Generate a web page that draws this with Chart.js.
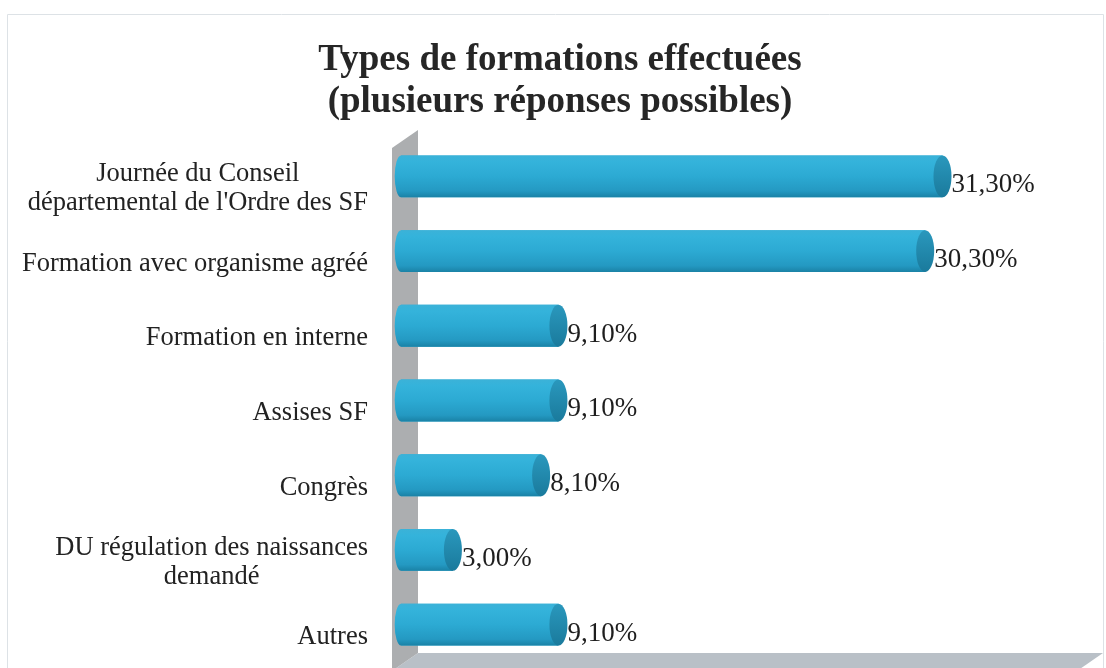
<!DOCTYPE html>
<html>
<head>
<meta charset="utf-8">
<script src="https://cdn.jsdelivr.net/npm/chart.js@4/dist/chart.umd.min.js"></script>
<style>
  html, body { margin: 0; padding: 0; background: #fff; }
  #wrap { width: 1106px; height: 668px; }
</style>
</head>
<body>
<div id="wrap"><canvas id="chart-formations"></canvas></div>
<script>
// catégories (libellés sur plusieurs lignes quand Excel les coupait)
const categories = [
  ["Journée du Conseil", "départemental de l'Ordre des SF"],
  "Formation avec organisme agréé",
  "Formation en interne",
  "Assises SF",
  "Congrès",
  ["DU régulation des naissances", "demandé"],
  "Autres",
];
// pourcentages de réponses
const values = [31.3, 30.3, 9.1, 9.1, 8.1, 3.0, 9.1];
const titleLines = ["Types de formations effectuées", "(plusieurs réponses possibles)"];

const fmtPct = (v) => v.toFixed(2).replace(".", ",") + "%";

// murs gris du graphique 3D (mur gauche + sol)
const scene3d = {
  id: "scene3d",
  beforeDraw(chart) {
    const { ctx } = chart;
    ctx.save();
    ctx.strokeStyle = "#dde2e6";
    ctx.lineWidth = 1;
    ctx.beginPath();
    ctx.moveTo(7.5, 700);
    ctx.lineTo(7.5, 14.5);
    ctx.lineTo(1103.5, 14.5);
    ctx.lineTo(1103.5, 700);
    ctx.stroke();
    ctx.restore();
  },
  beforeDatasetsDraw(chart) {
    const { ctx, chartArea: a } = chart;
    const dx = 26, dy = 18;
    const fx = a.left - 9, bx = fx + dx;
    const floorY = a.bottom - 9;
    ctx.save();
    ctx.fillStyle = "#b9c0c7";
    ctx.beginPath();
    ctx.moveTo(bx, floorY);
    ctx.lineTo(a.right + 10, floorY);
    ctx.lineTo(a.right + 10 - dx, floorY + dy);
    ctx.lineTo(fx, floorY + dy);
    ctx.closePath();
    ctx.fill();

    ctx.fillStyle = "#acaeb0";
    ctx.beginPath();
    ctx.moveTo(fx, a.top + 9);
    ctx.lineTo(bx, a.top - 9);
    ctx.lineTo(bx, floorY);
    ctx.lineTo(fx, floorY + dy);
    ctx.closePath();
    ctx.fill();
    ctx.restore();
  },
};

// ombrage cylindrique des barres, étiquettes de valeurs et de catégories
const cylinders = {
  id: "cylinders",
  afterDatasetsDraw(chart) {
    const { ctx } = chart;
    const meta = chart.getDatasetMeta(0);
    ctx.save();
    meta.data.forEach((bar, i) => {
      const { x, y, base, height } = bar.getProps(["x", "y", "base", "height"], true);
      const top = y - height / 2, bot = y + height / 2;
      const ry = height / 2, rx = 9;

      const g = ctx.createLinearGradient(0, top, 0, bot);
      g.addColorStop(0, "#3bb2d8");
      g.addColorStop(0.15, "#34b3db");
      g.addColorStop(0.5, "#2caad3");
      g.addColorStop(0.85, "#2499c2");
      g.addColorStop(1, "#1a82a6");
      ctx.fillStyle = g;
      ctx.beginPath();
      ctx.ellipse(base, y, rx * 0.7, ry, 0, Math.PI / 2, Math.PI * 1.5);
      ctx.lineTo(x, top);
      ctx.lineTo(x, bot);
      ctx.closePath();
      ctx.fill();

      const gc = ctx.createLinearGradient(0, top, 0, bot);
      gc.addColorStop(0, "#2a98bd");
      gc.addColorStop(1, "#1a7a9c");
      ctx.fillStyle = gc;
      ctx.beginPath();
      ctx.ellipse(x, y, rx, ry, 0, 0, Math.PI * 2);
      ctx.fill();

      ctx.fillStyle = "#1e1e1e";
      ctx.font = '27px "Liberation Serif", serif';
      ctx.textAlign = "left";
      ctx.textBaseline = "alphabetic";
      ctx.fillText(fmtPct(values[i]), x + rx, y + 16);
    });

    const yScale = chart.scales.y;
    ctx.font = '26.5px "Liberation Serif", serif';
    ctx.fillStyle = "#222";
    ctx.textAlign = "center";
    categories.forEach((label, i) => {
      const lines = Array.isArray(label) ? label : [label];
      const yc = yScale.getPixelForValue(i);
      const boxW = Math.max(...lines.map((l) => ctx.measureText(l).width));
      const cx = 368 - boxW / 2;
      lines.forEach((line, k) => {
        ctx.fillText(line, cx, yc + 19.5 - (lines.length - 1) * 14.5 + k * 29);
      });
    });
    ctx.restore();
  },
};

document.addEventListener("DOMContentLoaded", () => {
  const el = document.getElementById("chart-formations");
  new Chart(el, {
    type: "bar",
    data: {
      labels: categories,
      datasets: [
        {
          label: "Formations",
          data: values,
          backgroundColor: "#2caad3",
          borderWidth: 0,
          barPercentage: 0.56,
          categoryPercentage: 1,
        },
      ],
    },
    options: {
      indexAxis: "y",
      responsive: true,
      maintainAspectRatio: false,
      animation: false,
      layout: { padding: { left: 27, right: 13, top: 0, bottom: 6 } },
      scales: {
        x: { display: false, min: 0, max: 40 },
        y: {
          ticks: { display: false },
          grid: { display: false },
          border: { display: false },
          afterFit(scale) {
            scale.width = 374;
          },
        },
      },
      plugins: {
        legend: { display: false },
        tooltip: { enabled: false },
        title: {
          display: true,
          text: titleLines,
          color: "#262626",
          font: { family: '"Liberation Serif", serif', size: 37, weight: "bold", lineHeight: 1.12 },
          padding: { top: 40, bottom: 16.1 },
        },
      },
    },
    plugins: [scene3d, cylinders],
  });
});
</script>
</body>
</html>
